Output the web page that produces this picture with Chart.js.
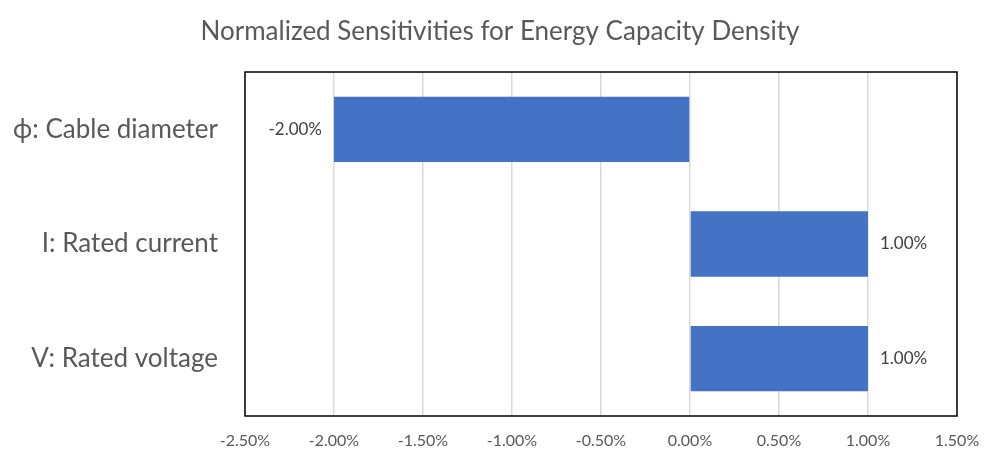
<!DOCTYPE html>
<html>
<head>
<meta charset="utf-8">
<script src="https://cdn.jsdelivr.net/npm/chart.js@4"></script>
<style>
html,body{margin:0;padding:0;background:#fff;}
#wrap{width:1000px;height:462px;}
</style>
</head>
<body>
<div id="wrap"><canvas id="c" width="1000" height="462"></canvas></div>
<script>
const categories = ["ϕ: Cable diameter", "I: Rated current", "V: Rated voltage"];
const sensitivities = [-0.02, 0.01, 0.01];
const xTicks = [-0.025, -0.02, -0.015, -0.01, -0.005, 0, 0.005, 0.01, 0.015];
const titleText = "Normalized Sensitivities for Energy Capacity Density";

const FONT = "Lato, 'Open Sans', sans-serif";
const GREY = "#595959";
const fmt = v => (v * 100).toFixed(2) + "%";

const frame = {
  id: 'frame',
  afterDraw(chart) {
    const {ctx, chartArea: a} = chart;
    ctx.save();
    ctx.strokeStyle = '#000';
    ctx.lineWidth = 1.5;
    ctx.strokeRect(a.left, a.top, a.right - a.left, a.bottom - a.top);
    ctx.font = "26px " + FONT;
    ctx.fillStyle = GREY;
    ctx.textAlign = 'center';
    ctx.textBaseline = 'middle';
    ctx.fillText(titleText, chart.width / 2, 32);
    ctx.restore();
  }
};
const valueLabels = {
  id: 'valueLabels',
  afterDatasetsDraw(chart) {
    const {ctx} = chart;
    const meta = chart.getDatasetMeta(0);
    ctx.save();
    ctx.font = "17px " + FONT;
    ctx.fillStyle = "#404040";
    ctx.textBaseline = 'middle';
    meta.data.forEach((bar, i) => {
      const v = sensitivities[i];
      if (v < 0) {
        ctx.textAlign = 'right';
        ctx.fillText(fmt(v), bar.x - 12, bar.y);
      } else {
        ctx.textAlign = 'left';
        ctx.fillText(fmt(v), bar.x + 12, bar.y);
      }
    });
    ctx.restore();
  }
};

new Chart(document.getElementById('c'), {
  type: 'bar',
  data: {
    labels: categories,
    datasets: [{
      data: sensitivities,
      backgroundColor: '#4472C4',
      borderColor: '#4472C4',
      borderWidth: 0,
      barPercentage: 0.57,
      categoryPercentage: 1.0
    }]
  },
  options: {
    indexAxis: 'y',
    responsive: false,
    animation: false,
    devicePixelRatio: 1,
    layout: {padding: {left: 0, right: 43, top: 72, bottom: 0}},
    plugins: {
      legend: {display: false},
      tooltip: {enabled: false},
      title: {display: false}
    },
    scales: {
      x: {
        min: -0.025, max: 0.015,
        afterBuildTicks: s => { s.ticks = xTicks.map(v => ({value: v})); },
        afterFit: s => { s.height = 46; },
        grid: {color: '#d9d9d9', lineWidth: 1.5, drawTicks: false},
        border: {display: false},
        ticks: {
          callback: v => fmt(v),
          color: GREY,
          font: {family: FONT, size: 16},
          padding: 15,
          maxRotation: 0
        }
      },
      y: {
        afterFit: s => { s.width = 245; },
        grid: {display: false, drawTicks: false},
        border: {display: false},
        ticks: {
          color: GREY,
          font: {family: FONT, size: 26},
          padding: 27
        }
      }
    }
  },
  plugins: [frame, valueLabels]
});
</script>
</body>
</html>
